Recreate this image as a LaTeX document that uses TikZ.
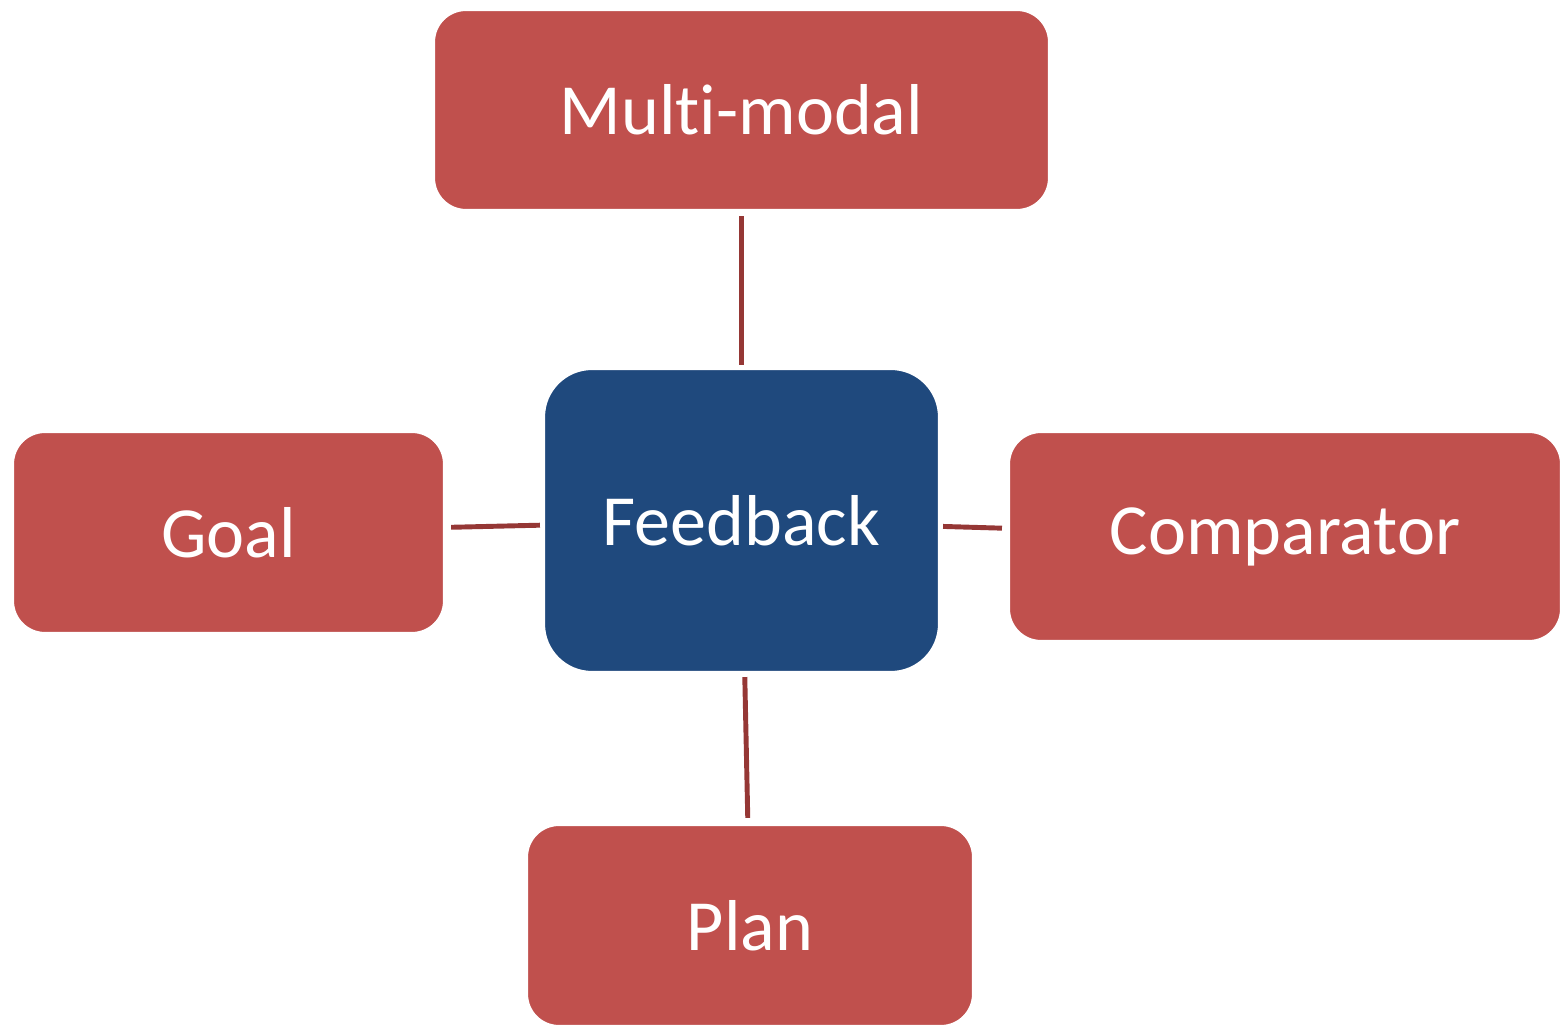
\documentclass[tikz,border=0pt]{standalone}
\usepackage{fontspec}
\setmainfont{Carlito}[Ligatures=NoCommon]
\definecolor{boxred}{HTML}{C0504D}
\definecolor{boxblue}{HTML}{1F497D}
\definecolor{linkred}{HTML}{953735}
\begin{document}
\begin{tikzpicture}[
    outer box/.style={fill=boxred, draw=white, line width=0.6pt, rounded corners=0.32cm,
      text=white, font=\fontsize{20.5}{24}\selectfont, inner sep=0pt},
    centre box/.style={outer box, fill=boxblue, rounded corners=0.48cm},
    link/.style={draw=linkred, line width=1.4pt}]
      \useasboundingbox (0,0) rectangle (15.65,-10.26);
      \draw
        (7.415,-5.205) node[centre box, minimum width=3.95cm, minimum height=3.03cm] (feedback){Feedback}
        (7.415,-1.10) node[outer box, minimum width=6.15cm, minimum height=2.00cm] (multimodal){Multi-modal}
        (2.285,-5.325) node[outer box, minimum width=4.31cm, minimum height=2.01cm] (goal){Goal}
        (12.85,-5.365) node[outer box, minimum width=5.52cm, minimum height=2.09cm] (comparator){Comparator}
        (7.50,-9.255) node[outer box, minimum width=4.46cm, minimum height=2.01cm] (plan){Plan};
      \begin{scope}[link]
        \draw[shorten <=0.05cm, shorten >=0.03cm] (multimodal) to (feedback);
        \draw[shorten <=0.06cm, shorten >=0.03cm] (goal) to (feedback);
        \draw[shorten <=0.03cm, shorten >=0.06cm] (feedback) to (comparator);
        \draw[shorten <=0.04cm, shorten >=0.06cm] (feedback) to (plan);
      \end{scope}
    \end{tikzpicture}
\end{document}
